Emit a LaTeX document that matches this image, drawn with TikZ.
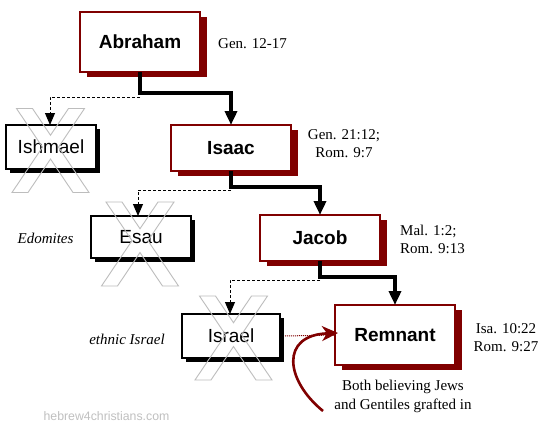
\documentclass[tikz,border=0pt]{standalone}
\usepackage{fontspec}
\setmainfont{Liberation Serif}
\setsansfont{Liberation Sans}
\usetikzlibrary{arrows.meta,shadows}
\definecolor{dred}{HTML}{800000}
\definecolor{xgray}{HTML}{BDBDBD}
\definecolor{wmgray}{HTML}{C0C0C0}
\tikzset{
  mainbox/.style={draw=dred, line width=1.1pt, fill=white, minimum width=120pt, inner sep=0pt, outer sep=0pt,
    font=\sffamily\bfseries\fontsize{19}{22}\selectfont,
    general shadow={shadow xshift=7pt, shadow yshift=-5pt, fill=dred}},
  sidebox/.style={draw=black, line width=1.1pt, fill=white, inner sep=0pt, outer sep=0pt,
    font=\sffamily\fontsize{19}{22}\selectfont,
    general shadow={shadow xshift=4pt, shadow yshift=-4pt, fill=black}},
  mainline/.style={line width=4.5pt, -{Triangle[length=14pt,width=12pt]}},
  dashline/.style={line width=1pt, dash pattern=on 3pt off 2pt, -{Triangle[length=12pt,width=10pt]}},
  ref/.style={inner sep=0pt, font=\fontsize{15}{18}\selectfont},
  note/.style={inner sep=0pt, font=\itshape\fontsize{15}{18}\selectfont},
  xline/.style={draw=xgray, line width=0.9pt},
  bigx/.pic={\draw[xline] (-34,-42) -- (-18,-42) -- (0,-15.24) -- (18,-42) -- (34,-42) -- (8,-3.35)
     -- (38.5,42) -- (22.5,42) -- (0,8.55) -- (-22.5,42) -- (-38.5,42) -- (-8,-3.35) -- cycle;}
}
\begin{document}
\begin{tikzpicture}[x=1pt,y=-1pt]
\useasboundingbox[fill=white] (0,0) rectangle (552,434);

% boxes
\node[mainbox, minimum height=60pt] (abraham) at (140,42) {Abraham};
\node[mainbox, minimum height=46pt] (isaac) at (231,148) {Isaac};
\node[mainbox, minimum height=46pt] (jacob) at (320,238) {Jacob};
\node[mainbox, minimum height=60pt] (remnant) at (395,335) {Remnant};
\node[sidebox, minimum width=90pt, minimum height=44pt] (ishmael) at (51,147) {Ishmael};
\node[sidebox, minimum width=100pt, minimum height=42pt] (esau) at (141,237) {Esau};
\node[sidebox, minimum width=98pt, minimum height=44pt] (israel) at (231,336) {Israel};

% connectors
\draw[dashline] ([yshift=-25pt]abraham.south) -| ([xshift=-1pt]ishmael.north);
\draw[mainline] (abraham.south) -- ++(0,21) -| (isaac.north);
\draw[dashline] ([yshift=-19pt]isaac.south) -| ([xshift=-3pt]esau.north);
\draw[mainline] (isaac.south) -- ++(0,16) -| (jacob.north);
\draw[dashline] ([yshift=-19pt]jacob.south) -| ([xshift=-1pt]israel.north);
\draw[mainline] (jacob.south) -- ++(0,16) -| (remnant.north);

% red connectors
\draw[dred, line width=1pt, dash pattern=on 1pt off 1pt] ([xshift=5pt]israel.east) -- (remnant.west);
\coordinate (cstart) at (323,411);
\draw[dred, line width=2.6pt, -{Stealth[length=16pt,width=15pt,inset=5pt]}]
  (cstart) .. controls (285,380) and (280,335) .. ([xshift=3pt,yshift=2pt]remnant.west);

% crosses
\pic at (50.5,150.5) {bigx};
\pic at (140,244) {bigx};
\pic at (233.5,338) {bigx};

% texts
\node[ref, anchor=west] (gen1) at (218,44) {Gen. 12-17};
\node[ref, align=center] (isaacref) at (344,144) {Gen. 21:12;\\Rom. 9:7};
\node[ref, align=left, anchor=west] (jacobref) at (400,239) {Mal. 1:2;\\Rom. 9:13};
\node[ref, align=center] (remref) at (506,337.5) {Isa. 10:22\\Rom. 9:27};
\node[ref, align=center, font=\fontsize{15}{19}\selectfont] (both) at (403,396) {Both believing Jews\\and Gentiles grafted in};
\node[note] (edom) at (45.5,238) {Edomites};
\node[note] (ethnic) at (127,339) {ethnic Israel};
\node[inner sep=0pt, text=wmgray, font=\sffamily\fontsize{12.3}{14}\selectfont] (wm) at (106.5,416) {hebrew4christians.com};
\end{tikzpicture}
\end{document}
